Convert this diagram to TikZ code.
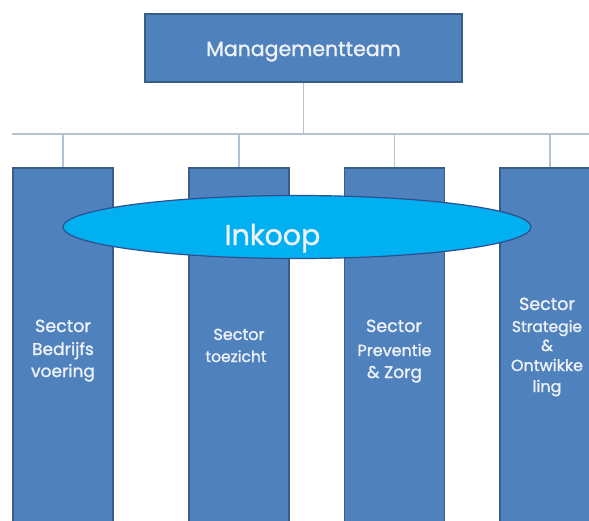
\documentclass[tikz,border=0pt]{standalone}
\usepackage{fontspec}
\setmainfont{Poppins}[UprightFeatures={FakeBold=1.3}]
\usetikzlibrary{shapes.geometric}
\definecolor{boxblue}{HTML}{4F81BD}
\definecolor{boxedge}{HTML}{385D8A}
\definecolor{ellfill}{HTML}{00B0F0}
\definecolor{elledge}{HTML}{2F4F8F}
\definecolor{linegray}{HTML}{B4C3D3}
\definecolor{txt}{HTML}{EEF2F8}
\tikzset{
  orgbox/.style={draw=boxedge, line width=1.2pt, fill=boxblue, rectangle, inner sep=0pt},
  col/.style={orgbox, minimum width=100pt, minimum height=372pt},
  conn/.style={draw=linegray, line width=1.6pt},
  lbl/.style={text=txt, inner sep=0pt, anchor=base},
  fs/.style={font=\fontsize{#1}{#1}\selectfont},
}
\begin{document}
\begin{tikzpicture}[x=1pt,y=-1pt]
\useasboundingbox (0,0) rectangle (589,520);
\clip (0,0) rectangle (589,520);
\fill[white] (0,0) rectangle (589,520);
\node[orgbox, minimum width=317pt, minimum height=68pt] (mt) at (303.5,48) {};
\node[lbl, fs=20.5] (mtl) at (303.5,56) {Managementteam};
\coordinate (bus) at (303.5,134);
\coordinate (busL) at (12,134);
\coordinate (busR) at (589,134);
\node[col] (c1) at (63,354) {};
\node[col] (c2) at (239,354) {};
\node[col] (c3) at (394.5,354) {};
\node[col] (c4) at (550,354) {};
\draw[conn] (mt.south) -- (bus);
\draw[conn] (busL) -- (busR);
\foreach \c in {c1,c2,c3,c4}{
  \draw[conn] (\c.north |- bus) -- (\c.north);
}
\node[ellipse, draw=elledge, line width=1.2pt, fill=ellfill, minimum width=468pt, minimum height=63pt, inner sep=0pt] (ink) at (297,227) {};
\node[lbl, fs=28.5] (inkl) at (272.5,245) {Inkoop};
% column 1
\node[lbl, fs=17.5] (t1a) at (63,332) {Sector};
\node[lbl, fs=17] (t1b) at (63,355) {Bedrijfs};
\node[lbl, fs=17] (t1c) at (63,377) {voering};
% column 2
\node[lbl, fs=16] (t2a) at (239,340) {Sector};
\node[lbl, fs=15.5] (t2b) at (236,362) {toezicht};
% column 3
\node[lbl, fs=17.5] (t3a) at (394,332) {Sector};
\node[lbl, fs=16] (t3b) at (394.5,356) {Preventie};
\node[lbl, fs=17] (t3c) at (394.5,378) {\& Zorg};
% column 4
\node[lbl, fs=17.5] (t4a) at (547,310) {Sector};
\node[lbl, fs=15.5] (t4b) at (547,332) {Strategie};
\node[lbl, fs=16] (t4c) at (547,351) {\&};
\node[lbl, fs=16] (t4d) at (547,371) {Ontwikke};
\node[lbl, fs=16] (t4e) at (547,392) {ling};
\end{tikzpicture}
\end{document}
